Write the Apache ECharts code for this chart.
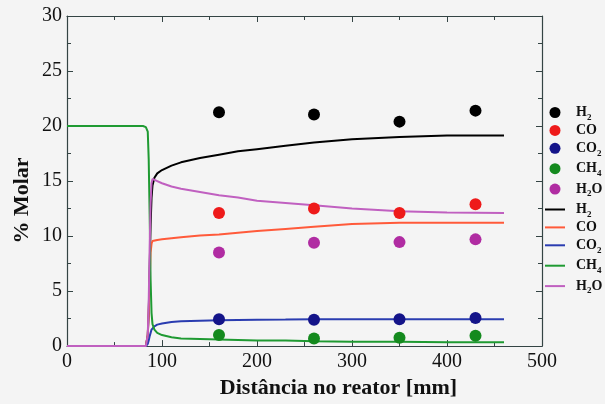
<!DOCTYPE html>
<html>
<head>
<meta charset="utf-8">
<script src="https://cdn.jsdelivr.net/npm/echarts@6/dist/echarts.min.js"></script>
<style>
  html, body { margin: 0; padding: 0; background: #f4f4f4; }
  #chart { width: 605px; height: 404px; }
</style>
</head>
<body>
<div id="chart"></div>
<script>
// Perfil de composição ao longo do reator
var species = ['H2', 'CO', 'CO2', 'CH4', 'H2O'];

// pontos experimentais
var expDist = [160, 260, 350, 430];
var expH2  = [21.25, 21.05, 20.4, 21.4];
var expCO  = [12.1, 12.5, 12.1, 12.9];
var expCO2 = [2.45, 2.4, 2.45, 2.55];
var expCH4 = [1.0, 0.7, 0.75, 0.95];
var expH2O = [8.5, 9.4, 9.45, 9.7];

// curvas do modelo
var simDist = [0, 80, 83, 85, 86, 87, 88, 89, 90, 92, 95, 100, 110, 120, 140, 160, 180, 200, 230, 260, 300, 350, 400, 460];
var simH2  = [0, 0, 0, 1, 3, 7, 11, 13.5, 14.6, 15.3, 15.7, 16.0, 16.4, 16.7, 17.1, 17.4, 17.7, 17.9, 18.2, 18.5, 18.8, 19.0, 19.15, 19.15];
var simCO  = [0, 0, 0, 1, 3, 6, 8.5, 9.3, 9.55, 9.6, 9.65, 9.7, 9.8, 9.9, 10.05, 10.15, 10.3, 10.45, 10.65, 10.85, 11.1, 11.2, 11.2, 11.2];
var simCO2 = [0, 0, 0, 0.2, 0.5, 0.9, 1.2, 1.5, 1.65, 1.8, 1.95, 2.05, 2.2, 2.25, 2.3, 2.35, 2.38, 2.4, 2.42, 2.45, 2.45, 2.45, 2.45, 2.45];
var simCH4 = [20, 20, 19.9, 19.5, 17, 12, 6, 3, 2, 1.5, 1.2, 1.0, 0.8, 0.7, 0.65, 0.6, 0.55, 0.5, 0.5, 0.45, 0.4, 0.4, 0.35, 0.35];
var simH2O = [0, 0, 0, 1, 4, 9, 13, 14.8, 15.2, 15.1, 15.0, 14.8, 14.5, 14.3, 14.0, 13.7, 13.5, 13.2, 13.0, 12.8, 12.5, 12.25, 12.15, 12.1];

var expColors = ['#000000', '#ee1a1a', '#141489', '#148a1e', '#b02ca2'];
var simColors = ['#000000', '#ff5a3a', '#2a3cb0', '#1f9a32', '#c060c0'];

var expValues = [expH2, expCO, expCO2, expCH4, expH2O];
var simValues = [simH2, simCO, simCO2, simCH4, simH2O];

function zip(xs, ys) {
  return xs.map(function(x, i) { return [x, ys[i]]; });
}

// H2O -> H{sub 2}O
function subLabel(name) {
  var sp = name.split(' ')[0];
  var out = '';
  sp.split('').forEach(function(ch) {
    out += /\d/.test(ch) ? '{s|' + ch + '}' : '{n|' + ch + '}';
  });
  return out;
}

var serif = '"Liberation Serif", "DejaVu Serif", serif';
var lineIcon = 'path://M0,0 L20,0 L20,2 L0,2 Z';

var series = [];
var legendData = [];
species.forEach(function(sp, i) {
  series.push({
    name: sp + ' exp', type: 'scatter', data: zip(expDist, expValues[i]),
    symbol: 'circle', symbolSize: 12,
    itemStyle: { color: expColors[i], opacity: 1 }, z: 5
  });
  legendData.push({ name: sp + ' exp', icon: 'circle' });
});
species.forEach(function(sp, i) {
  series.push({
    name: sp + ' sim', type: 'line', data: zip(simDist, simValues[i]),
    symbol: 'none', lineStyle: { color: simColors[i], width: 2 },
    itemStyle: { color: simColors[i] }, z: 2
  });
  legendData.push({ name: sp + ' sim', icon: lineIcon });
});

function axisStyle(extra) {
  return Object.assign({
    axisLine: { show: true, onZero: false, lineStyle: { color: '#344444', width: 1.2 } },
    axisTick: { show: true, inside: true, length: 6, lineStyle: { color: '#344444' } },
    minorTick: { show: true, splitNumber: 2, length: 4, lineStyle: { color: '#344444' } },
    splitLine: { show: false },
    minorSplitLine: { show: false }
  }, extra);
}

var chart = echarts.init(document.getElementById('chart'));
chart.setOption({
  backgroundColor: '#f4f4f4',
  animation: false,
  grid: { left: 67, right: 63, top: 16, bottom: 56 },
  legend: {
    data: legendData,
    orient: 'vertical',
    left: 545, top: 103,
    padding: 0,
    itemWidth: 20, itemHeight: 11, itemGap: 1.4,
    formatter: subLabel,
    textStyle: {
      padding: [0, 0, 0, 6],
      rich: {
        n: { fontFamily: serif, fontSize: 14, fontWeight: 'bold', color: '#111', lineHeight: 19 },
        s: { fontFamily: serif, fontSize: 9, fontWeight: 'bold', color: '#111', lineHeight: 9, padding: [10, 0, 0, 0], verticalAlign: 'bottom' }
      }
    }
  },
  xAxis: [
    axisStyle({
      type: 'value', min: 0, max: 500, interval: 100, position: 'bottom',
      name: 'Distância no reator [mm]', nameLocation: 'middle', nameGap: 26,
      nameTextStyle: { fontFamily: serif, fontSize: 22, fontWeight: 'bold', color: '#111', padding: [0, 0, 0, 68] },
      axisLabel: { fontFamily: serif, fontSize: 20, color: '#111', margin: 6 }
    }),
    axisStyle({
      type: 'value', min: 0, max: 500, interval: 100, position: 'top',
      axisLabel: { show: false }
    })
  ],
  yAxis: [
    axisStyle({
      type: 'value', min: 0, max: 30, interval: 5, position: 'left',
      name: '% Molar', nameLocation: 'middle', nameGap: 34, nameMoveOverlap: false,
      nameTextStyle: { fontFamily: serif, fontSize: 22, fontWeight: 'bold', color: '#111', padding: [0, 39, 0, 0] },
      axisLabel: { fontFamily: serif, fontSize: 20, color: '#111', margin: 5 }
    }),
    axisStyle({
      type: 'value', min: 0, max: 30, interval: 5, position: 'right',
      axisLabel: { show: false }
    })
  ],
  series: series
});
</script>
</body>
</html>
